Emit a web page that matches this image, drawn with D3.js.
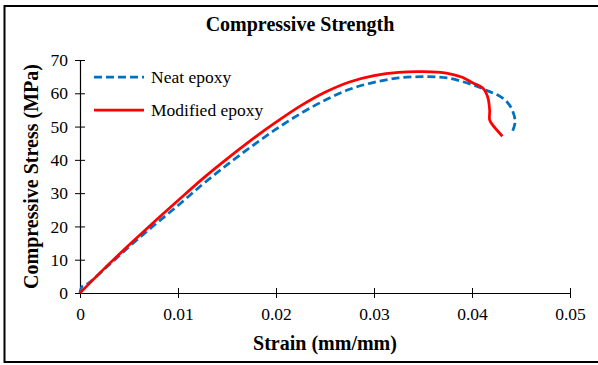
<!DOCTYPE html>
<html>
<head>
<meta charset="utf-8">
<script src="https://cdn.jsdelivr.net/npm/d3@7"></script>
<style>
  body { margin: 0; background: #fff; }
  text { font-family: "Liberation Serif", "Times New Roman", serif; fill: #000; }
</style>
</head>
<body>
<script>
  // strain (mm/mm), stress (MPa)
  const neatStrain = [0, 0.0002, 0.0008, 0.0025, 0.005, 0.0075, 0.01, 0.0125, 0.015, 0.0175, 0.02, 0.0225, 0.025, 0.0275, 0.03, 0.0325, 0.035, 0.0375, 0.04, 0.0418, 0.0429, 0.0436, 0.0441, 0.0444, 0.0441];
  const neatStress = [0, 1.9, 2.8, 7.2, 13.9, 20.2, 26.3, 32.6, 38.5, 44, 49.2, 53.9, 57.9, 61.2, 63.3, 64.6, 65.0, 64.6, 62.6, 60.5, 59.0, 57.3, 55.0, 51.4, 48.3];

  const modStrain = [0, 0.0025, 0.005, 0.0075, 0.01, 0.0125, 0.015, 0.0175, 0.02, 0.0225, 0.025, 0.0275, 0.03, 0.0325, 0.035, 0.0375, 0.039, 0.0401, 0.0411, 0.0416, 0.0418, 0.0418, 0.0421, 0.0431];
  const modStress = [0, 7.4, 14.4, 21.2, 27.8, 34.3, 40.3, 46, 51.3, 56.2, 60.3, 63.4, 65.3, 66.3, 66.5, 66.0, 64.8, 63.1, 61.6, 58.9, 55, 52, 50.5, 47.1];

  const xTicks = [0, 0.01, 0.02, 0.03, 0.04, 0.05];
  const yTicks = [0, 10, 20, 30, 40, 50, 60, 70];

  const series = [
    { name: 'Neat epoxy', xs: neatStrain, ys: neatStress, color: '#0070C0', dash: '8,4' },
    { name: 'Modified epoxy', xs: modStrain, ys: modStress, color: '#FF0000', dash: null }
  ];

  const width = 598;
  const height = 365;
  const margin = { top: 60, right: 28, bottom: 72, left: 80 };

  const svg = d3.select('body')
    .append('svg')
    .attr('width', width)
    .attr('height', height);

  // outer frame (right edge is cut off in the original)
  svg.append('rect')
    .attr('x', 4.5)
    .attr('y', 6)
    .attr('width', 620)
    .attr('height', 356)
    .attr('fill', 'none')
    .attr('stroke', '#000')
    .attr('stroke-width', 2);

  const x = d3.scaleLinear()
    .domain([0, 0.05])
    .range([margin.left, width - margin.right]);

  const y = d3.scaleLinear()
    .domain([0, 70])
    .range([height - margin.bottom, margin.top]);

  // axes with cross ticks
  const xAxis = svg.append('g')
    .attr('transform', `translate(0,${y(0)})`)
    .call(d3.axisBottom(x).tickValues(xTicks).tickSize(0).tickFormat(d => d === 0 ? '0' : d3.format('.2f')(d)));
  const yAxis = svg.append('g')
    .attr('transform', `translate(${x(0)},0)`)
    .call(d3.axisLeft(y).tickValues(yTicks).tickSize(0));

  [xAxis, yAxis].forEach(g => {
    g.select('.domain').attr('stroke', '#000').attr('stroke-width', 1.2);
    g.selectAll('text').style('font-size', '17.5px').style('font-family', '"Liberation Serif", serif');
  });

  xAxis.selectAll('.tick line').attr('y1', -5).attr('y2', 5).attr('stroke', '#000');
  xAxis.selectAll('.tick text').attr('y', 15);
  yAxis.selectAll('.tick line').attr('x1', -5).attr('x2', 5).attr('stroke', '#000');
  yAxis.selectAll('.tick text').attr('x', -12);

  const line = d3.line()
    .x(d => x(d[0]))
    .y(d => y(d[1]))
    .curve(d3.curveCatmullRom.alpha(0.5));

  svg.selectAll('.series')
    .data(series)
    .join('path')
    .attr('class', 'series')
    .attr('d', s => line(s.xs.map((v, i) => [v, s.ys[i]])))
    .attr('fill', 'none')
    .attr('stroke', s => s.color)
    .attr('stroke-width', 2.75)
    .attr('stroke-dasharray', s => s.dash);

  // legend
  const legend = svg.selectAll('.legend')
    .data(series)
    .join('g')
    .attr('class', 'legend')
    .attr('transform', (d, i) => `translate(94,${77 + i * 33})`);

  legend.append('line')
    .attr('x1', 0)
    .attr('x2', 50)
    .attr('stroke', d => d.color)
    .attr('stroke-width', 2.75)
    .attr('stroke-dasharray', d => d.dash);

  legend.append('text')
    .attr('x', 57)
    .attr('dy', '0.32em')
    .style('font-size', '17.5px')
    .text(d => d.name);

  // titles
  svg.append('text')
    .attr('x', 300)
    .attr('y', 31)
    .attr('text-anchor', 'middle')
    .style('font-size', '20px')
    .style('font-weight', 'bold')
    .text('Compressive Strength');

  svg.append('text')
    .attr('x', (x(0) + x(0.05)) / 2)
    .attr('y', 350)
    .attr('text-anchor', 'middle')
    .style('font-size', '20px')
    .style('font-weight', 'bold')
    .text('Strain (mm/mm)');

  svg.append('text')
    .attr('transform', `translate(38,${(y(0) + y(70)) / 2}) rotate(-90)`)
    .attr('text-anchor', 'middle')
    .style('font-size', '20px')
    .style('font-weight', 'bold')
    .text('Compressive Stress (MPa)');
</script>
</body>
</html>
